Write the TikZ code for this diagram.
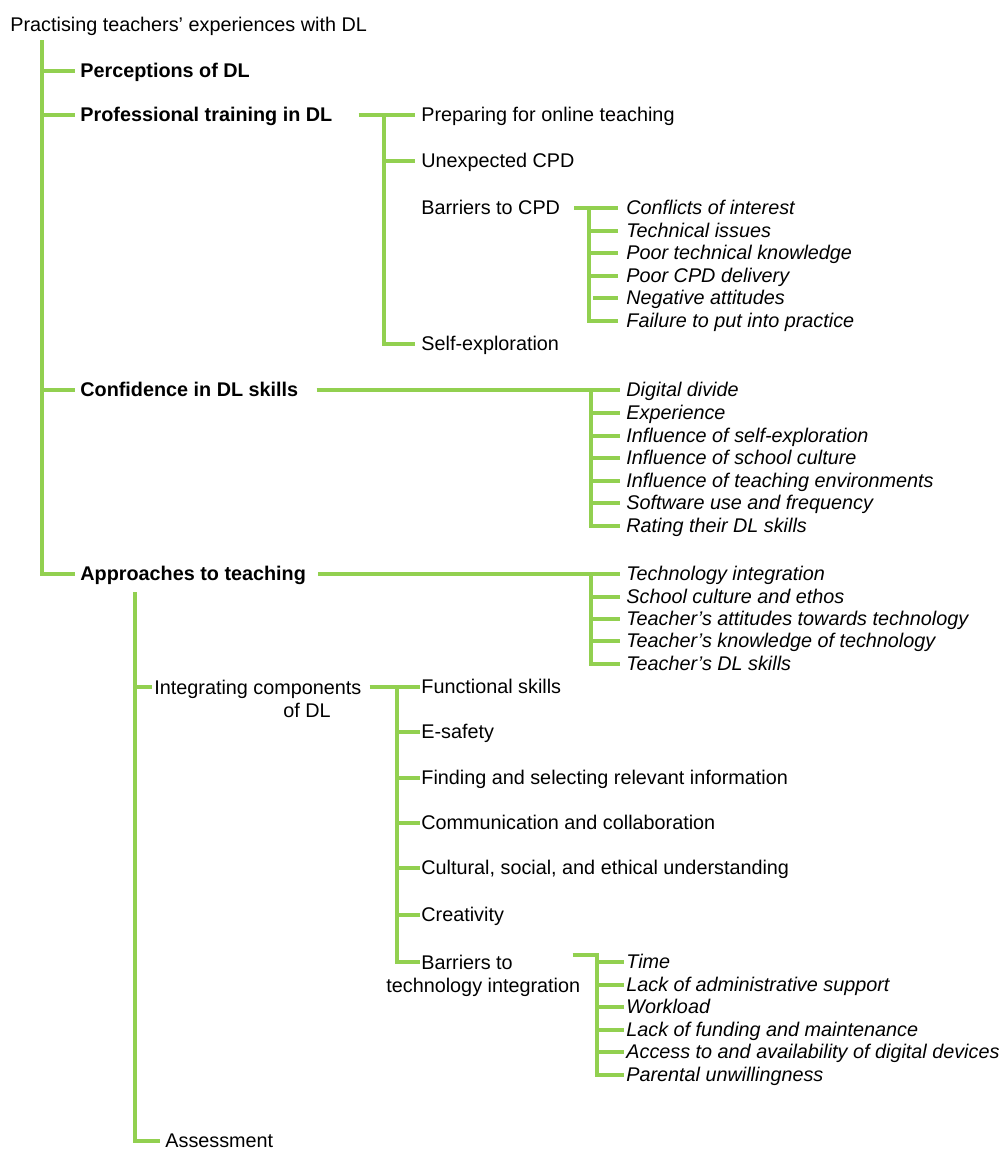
\documentclass[tikz,border=0pt]{standalone}
\usepackage{fontspec}
\setmainfont{Liberation Sans}
\usepackage{tikz}
\usetikzlibrary{calc}
\usetikzlibrary{positioning}
\definecolor{leafgreen}{RGB}{146,208,80}
\newcommand{\fs}{\fontsize{9.9}{11.2}\selectfont}

\begin{document}
\begin{tikzpicture}[x=0.5pt, y=-0.5pt,
  txt/.style={inner sep=0pt, anchor=west, text height=1.5ex, text depth=0.25ex, font=\fs},
  head/.style={txt, font=\fs\bfseries},
  leaf/.style={txt, font=\fs\itshape},
  twoline/.style={inner sep=0pt, anchor=north west, align=left, font=\fs},
  branch/.style={line width=2pt, leafgreen}]
\useasboundingbox (0,0) rectangle (1001,1151);

% top level
\node[txt] (root) at (10,25) {Practising teachers’ experiences with DL};
\node[head] (perc) at (80,71) {Perceptions of DL};
\node[head] (prof) at (80,115) {Professional training in DL};
\node[head] (conf) at (80,390) {Confidence in DL skills};
\node[head] (appr) at (80,574) {Approaches to teaching};
\coordinate (rootbus) at (42,40);
\draw[branch] (rootbus) |- ([xshift=-2.5pt]appr.west);
\draw[branch] (rootbus |- perc.west) -- ([xshift=-2.5pt]perc.west);
\draw[branch] (rootbus |- prof.west) -- ([xshift=-2.5pt]prof.west);
\draw[branch] (rootbus |- conf.west) -- ([xshift=-2.5pt]conf.west);

% professional training
\node[txt] (prep) at (421,115) {Preparing for online teaching};
\node[txt] (unexp) at (421,161) {Unexpected CPD};
\node[txt] (barcpd) at (421,208) {Barriers to CPD};
\node[txt] (selfexp) at (421,344) {Self-exploration};
\coordinate (profbus) at (384,115);
\draw[branch] ([xshift=13pt]prof.east) -- ([xshift=-3pt]prep.west);
\draw[branch] (profbus) |- ([xshift=-3pt]selfexp.west);
\draw[branch] (profbus |- unexp.west) -- ([xshift=-3pt]unexp.west);

% barriers to CPD
\node[leaf] (conflict) at (626,208) {Conflicts of interest};
\node[leaf] (techiss) at (626,231) {Technical issues};
\node[leaf] (poorknow) at (626,253) {Poor technical knowledge};
\node[leaf] (poordel) at (626,276) {Poor CPD delivery};
\node[leaf] (negatt) at (626,298) {Negative attitudes};
\node[leaf] (failure) at (626,321) {Failure to put into practice};
\coordinate (cpdbus) at (589,208);
\draw[branch] ([xshift=7pt]barcpd.east) -- ([xshift=-4pt]conflict.west);
\draw[branch] (cpdbus) |- ([xshift=-4pt]failure.west);
\draw[branch] (cpdbus |- techiss.west) -- ([xshift=-4pt]techiss.west);
\draw[branch] (cpdbus |- poorknow.west) -- ([xshift=-4pt]poorknow.west);
\draw[branch] (cpdbus |- poordel.west) -- ([xshift=-4pt]poordel.west);
\draw[branch] ([xshift=2pt]cpdbus |- negatt.west) -- ([xshift=-4pt]negatt.west);

% confidence
\node[leaf] (divide) at (626,390) {Digital divide};
\node[leaf] (exper) at (626,413) {Experience};
\node[leaf] (inflself) at (626,436) {Influence of self-exploration};
\node[leaf] (inflschool) at (626,458) {Influence of school culture};
\node[leaf] (inflenv) at (626,481) {Influence of teaching environments};
\node[leaf] (software) at (626,503) {Software use and frequency};
\node[leaf] (rating) at (626,526) {Rating their DL skills};
\coordinate (confbus) at (591,390);
\draw[branch] ([xshift=9pt]conf.east) -- ([xshift=-3pt]divide.west);
\draw[branch] (confbus) |- ([xshift=-3pt]rating.west);
\draw[branch] (confbus |- exper.west) -- ([xshift=-3pt]exper.west);
\draw[branch] (confbus |- inflself.west) -- ([xshift=-3pt]inflself.west);
\draw[branch] (confbus |- inflschool.west) -- ([xshift=-3pt]inflschool.west);
\draw[branch] (confbus |- inflenv.west) -- ([xshift=-3pt]inflenv.west);
\draw[branch] (confbus |- software.west) -- ([xshift=-3pt]software.west);

% approaches, right side
\node[leaf] (techint) at (626,574) {Technology integration};
\node[leaf] (ethos) at (626,597) {School culture and ethos};
\node[leaf] (attit) at (626,619) {Teacher’s attitudes towards technology};
\node[leaf] (knowl) at (626,641) {Teacher’s knowledge of technology};
\node[leaf] (dlskills) at (626,664) {Teacher’s DL skills};
\coordinate (apprbus) at (591,574);
\draw[branch] ([xshift=6pt]appr.east) -- ([xshift=-3pt]techint.west);
\draw[branch] (apprbus) |- ([xshift=-3pt]dlskills.west);
\draw[branch] (apprbus |- ethos.west) -- ([xshift=-3pt]ethos.west);
\draw[branch] (apprbus |- attit.west) -- ([xshift=-3pt]attit.west);
\draw[branch] (apprbus |- knowl.west) -- ([xshift=-3pt]knowl.west);

% approaches, lower side
\node[twoline] (integ) at (154,680) {Integrating components\\\hspace*{64.5pt}of DL};
\node[txt] (assess) at (165,1141) {Assessment};
\coordinate (lowbus) at (135,592);
\coordinate (integin) at ([xshift=-1pt,yshift=-3.5pt]integ.north west);
\draw[branch] (lowbus) |- ([xshift=-2.5pt]assess.west);
\draw[branch] (lowbus |- integin) -- (integin);

% integrating components
\node[txt] (func) at (421,687) {Functional skills};
\node[txt] (esafe) at (421,732) {E-safety};
\node[txt] (finding) at (421,778) {Finding and selecting relevant information};
\node[txt] (commun) at (421,823) {Communication and collaboration};
\node[txt] (cultural) at (421,868) {Cultural, social, and ethical understanding};
\node[txt] (creat) at (421,915) {Creativity};
\node[twoline] (bartech) at (386,955) {\hspace*{17.5pt}Barriers to\\technology integration};
\coordinate (integbus) at (397,687);
\draw[branch] ([xshift=4pt,yshift=-3.5pt]integ.north east) -- ([xshift=-0.5pt]func.west);
\draw[branch] (integbus) |- ([xshift=17pt,yshift=-3.5pt]bartech.north west);
\draw[branch] (integbus |- esafe.west) -- ([xshift=-0.5pt]esafe.west);
\draw[branch] (integbus |- finding.west) -- ([xshift=-0.5pt]finding.west);
\draw[branch] (integbus |- commun.west) -- ([xshift=-0.5pt]commun.west);
\draw[branch] (integbus |- cultural.west) -- ([xshift=-0.5pt]cultural.west);
\draw[branch] (integbus |- creat.west) -- ([xshift=-0.5pt]creat.west);

% barriers to technology integration
\node[leaf] (time) at (626,962) {Time};
\node[leaf] (admin) at (626,985) {Lack of administrative support};
\node[leaf] (workload) at (626,1007) {Workload};
\node[leaf] (funding) at (626,1030) {Lack of funding and maintenance};
\node[leaf] (access) at (626,1052) {Access to and availability of digital devices};
\node[leaf] (parental) at (626,1075) {Parental unwillingness};
\coordinate (techbus) at (597,955);
\draw[branch] ([xshift=-4pt]bartech.north east) -- (techbus) |- ([xshift=-1pt]parental.west);
\draw[branch] (techbus |- time.west) -- ([xshift=-1pt]time.west);
\draw[branch] (techbus |- admin.west) -- ([xshift=-1pt]admin.west);
\draw[branch] (techbus |- workload.west) -- ([xshift=-1pt]workload.west);
\draw[branch] (techbus |- funding.west) -- ([xshift=-1pt]funding.west);
\draw[branch] (techbus |- access.west) -- ([xshift=-1pt]access.west);
\end{tikzpicture}
\end{document}
